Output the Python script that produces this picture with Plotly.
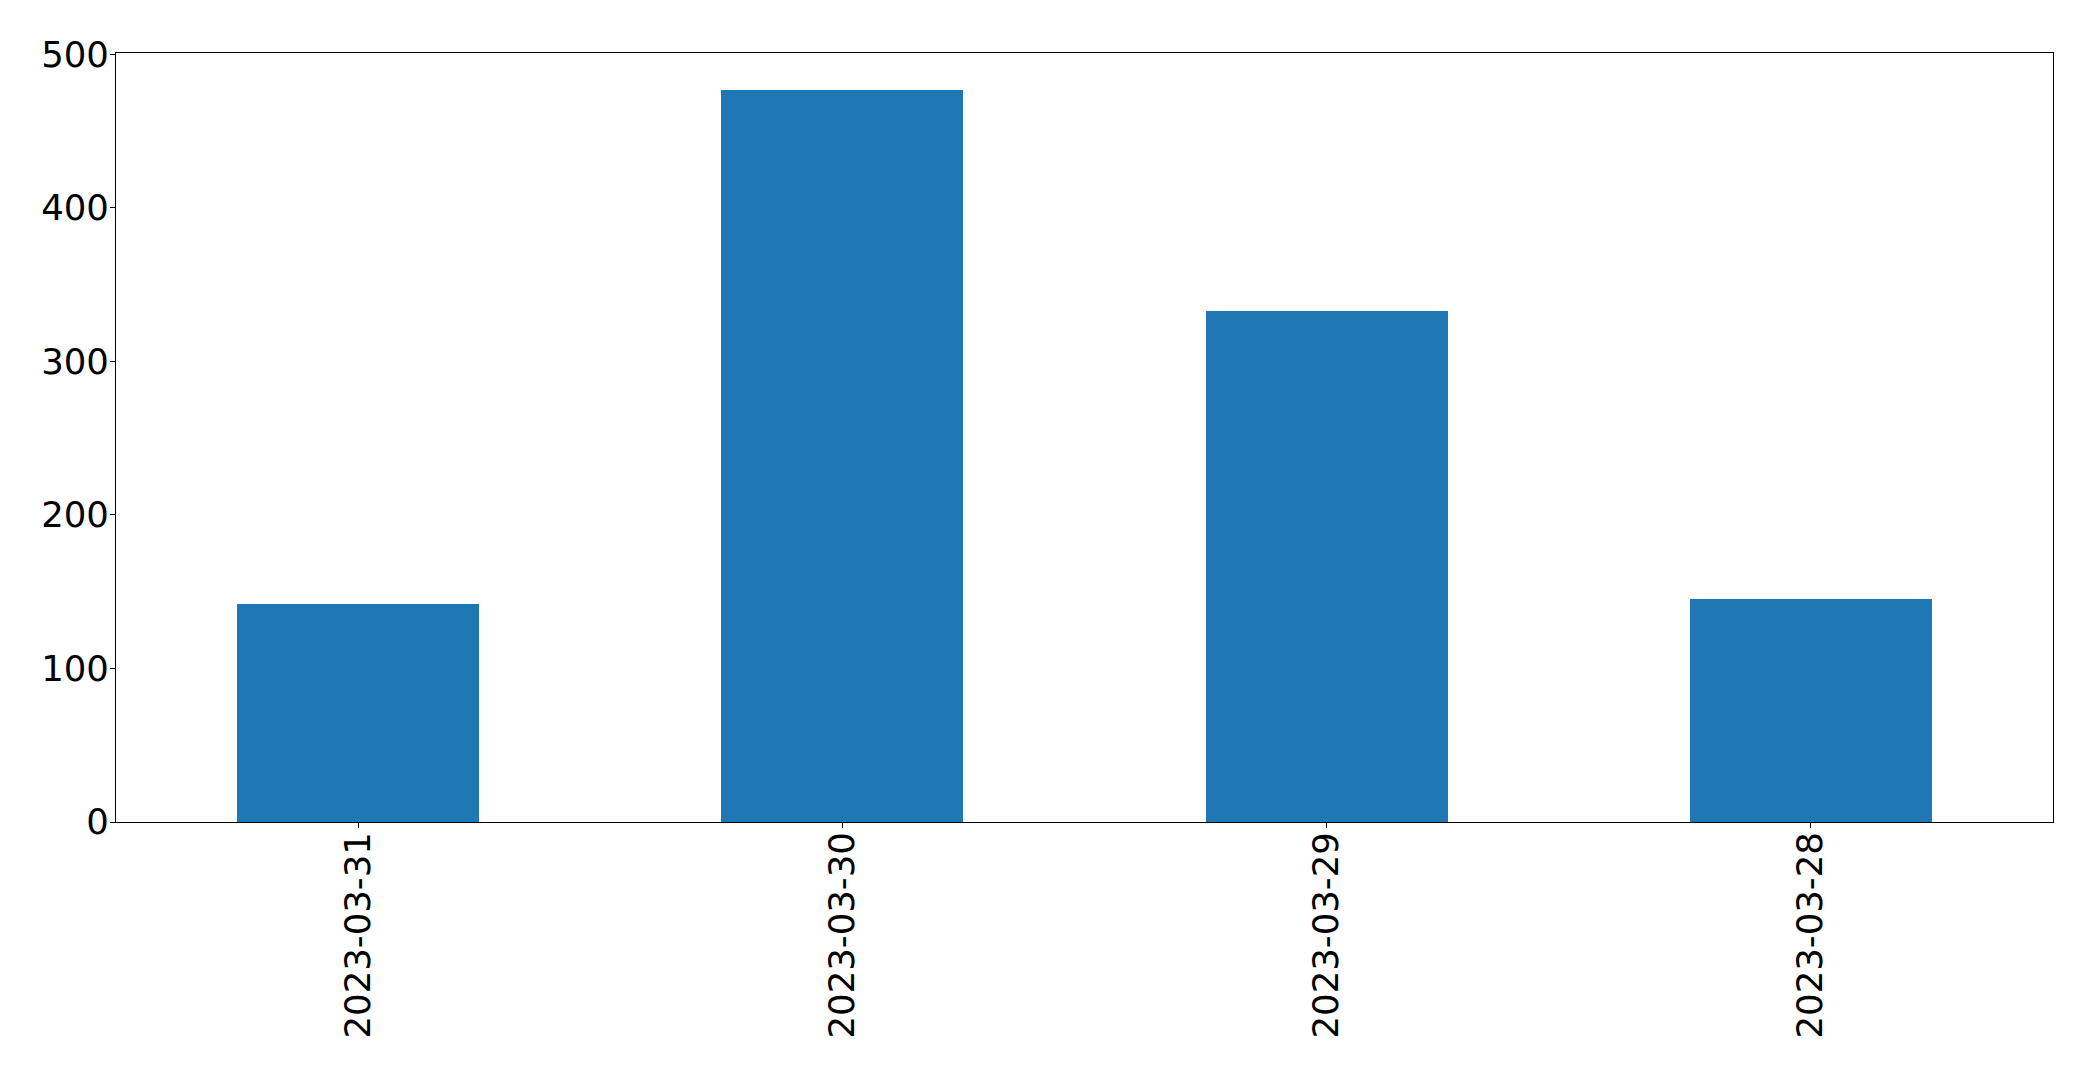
import plotly.graph_objects as go

dates = ["2023-03-31", "2023-03-30", "2023-03-29", "2023-03-28"]
counts = [142, 477, 333, 145]
y_ticks = [0, 100, 200, 300, 400, 500]

fig = go.Figure()
fig.add_trace(go.Bar(x=dates, y=counts, width=0.5, marker=dict(color="#1f77b4", line=dict(width=0))))

fig.update_layout(
    width=2093, height=1074,
    margin=dict(l=108, r=48, t=45, b=260, pad=0),
    paper_bgcolor="white", plot_bgcolor="white",
    font=dict(family="DejaVu Sans", size=35.5, color="black"),
    showlegend=False,
    bargap=0,
)
fig.update_xaxes(
    type="category", range=[-0.5, 3.5],
    tickangle=-90, ticks="outside", ticklen=5, tickwidth=1, tickcolor="black",
    showline=True, linecolor="black", linewidth=1, mirror=True,
    showgrid=False, zeroline=False, tickfont=dict(size=35.5),
    ticklabelstandoff=-10,
)
fig.update_yaxes(
    range=[0, 500.85], tickvals=y_ticks, ticktext=[str(v) for v in y_ticks],
    ticks="outside", ticklen=5, tickwidth=1, tickcolor="black",
    showline=True, linecolor="black", linewidth=1, mirror=True,
    showgrid=False, zeroline=False, tickfont=dict(size=35.5),
    ticklabelstandoff=-6,
)

fig.write_html("out.html")
